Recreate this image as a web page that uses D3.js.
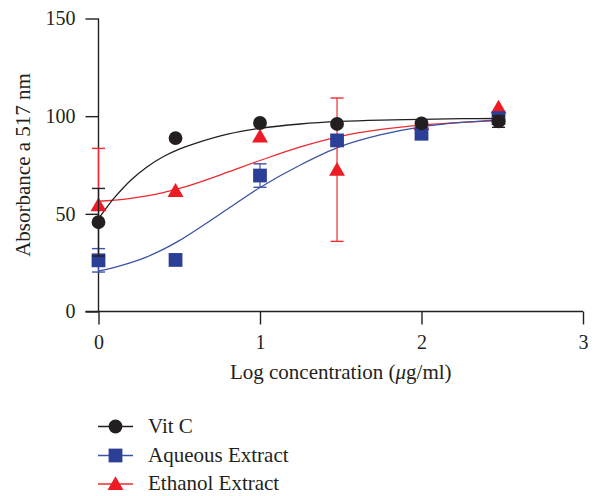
<!DOCTYPE html>
<html>
<head>
<meta charset="utf-8">
<script src="https://cdn.jsdelivr.net/npm/d3@7"></script>
<style>
  html, body { margin: 0; padding: 0; background: #fff; }
  svg text { font-family: "Liberation Serif", "Times New Roman", serif; fill: #231f20; }
</style>
</head>
<body>
<div id="chart"></div>
<script>
// measured points (log10 of concentration)
var logConc = [0, 0.477, 1, 1.477, 2, 2.477];

var vitC = [45.7, 88.8, 96.5, 96.0, 96.3, 97.3];
var vitCErr = [17.3, 0, 0, 0, 0, 3];
var aqueous = [26.2, 26.4, 69.6, 87.6, 91.0, 99.0];
var aqueousErr = [6, 0, 6, 0, 0, 0];
var ethanol = [54.5, 61.8, 89.6, 72.6, 96.0, 104.5];
var ethanolErr = [29, 0, 0, 36.7, 0, 0];

// fitted curves
var fitX = [0, 0.05, 0.1, 0.2, 0.3, 0.4, 0.5, 0.6, 0.8, 1.0, 1.25, 1.5, 1.75, 2.0, 2.25, 2.477];
var vitCFit = [47.5, 53.2, 58.4, 67.2, 74.0, 79.2, 83.1, 86.1, 90.8, 93.8, 96.0, 97.3, 98.0, 98.4, 98.7, 98.8];
var aqueousFit = [20.8, 21.6, 22.6, 25.0, 28.0, 31.8, 36.3, 41.5, 52.5, 63.5, 75.0, 84.5, 90.5, 94.5, 96.8, 98.0];
var ethanolFit = [56.5, 56.7, 57.0, 57.9, 59.2, 60.9, 63.0, 65.5, 71.3, 77.3, 84.3, 89.7, 93.2, 95.4, 96.8, 97.7];

var xTicks = [0, 1, 2, 3];
var yTicks = [0, 50, 100, 150];

var width = 597, height = 496;

var svg = d3.select('#chart').append('svg')
    .attr('width', width)
    .attr('height', height);

var x = d3.scaleLinear().domain([0, 3]).range([98.5, 583]);
var y = d3.scaleLinear().domain([0, 150]).range([311.5, 18.5]);

var axisColor = '#231f20';
var tick = 13;

// y axis
var yAxis = svg.append('g')
    .attr('transform', 'translate(' + x(0) + ',0)')
    .call(d3.axisLeft(y).tickValues(yTicks).tickSize(tick).tickPadding(10).tickFormat(d3.format('d')));
yAxis.select('.domain').remove();
yAxis.selectAll('line').attr('stroke', axisColor).attr('stroke-width', 1.4);
yAxis.selectAll('text').attr('font-size', 20).style('font-family', '"Liberation Serif", serif').attr('fill', axisColor);

// x axis
var xAxis = svg.append('g')
    .attr('transform', 'translate(0,' + y(0) + ')')
    .call(d3.axisBottom(x).tickValues(xTicks).tickSize(tick).tickPadding(10).tickFormat(d3.format('d')));
xAxis.select('.domain').remove();
xAxis.selectAll('line').attr('stroke', axisColor).attr('stroke-width', 1.4);
xAxis.selectAll('text').attr('font-size', 20).style('font-family', '"Liberation Serif", serif').attr('fill', axisColor);

// axis lines (prism style, crossing at the origin)
svg.append('line')
    .attr('x1', x(0)).attr('x2', x(0))
    .attr('y1', y(150)).attr('y2', y(0))
    .attr('stroke', axisColor).attr('stroke-width', 1.4);
svg.append('line')
    .attr('x1', x(0) - tick).attr('x2', x(3))
    .attr('y1', y(0)).attr('y2', y(0))
    .attr('stroke', axisColor).attr('stroke-width', 1.4);

// titles
var xTitle = svg.append('text')
    .attr('x', (x(0) + x(3)) / 2)
    .attr('y', 379)
    .attr('text-anchor', 'middle')
    .attr('font-size', 21);
xTitle.append('tspan').text('Log concentration (');
xTitle.append('tspan').attr('font-style', 'italic').text('\u03bc');
xTitle.append('tspan').text('g/ml)');

svg.append('text')
    .attr('transform', 'translate(30,' + (y(0) + y(150)) / 2 + ') rotate(-90)')
    .attr('text-anchor', 'middle')
    .attr('font-size', 21)
    .text('Absorbance a 517 nm');

var series = [
    {name: 'Ethanol Extract', values: ethanol, err: ethanolErr, fit: ethanolFit, color: '#ed1c24', line: '#ee2a31', shape: 'triangle'},
    {name: 'Aqueous Extract', values: aqueous, err: aqueousErr, fit: aqueousFit, color: '#2b3f96', line: '#3b52a5', shape: 'square'},
    {name: 'Vit C', values: vitC, err: vitCErr, fit: vitCFit, color: '#231f20', line: '#231f20', shape: 'circle'}
];

var symbols = {circle: d3.symbolCircle, square: d3.symbolSquare, triangle: d3.symbolTriangle};
var sizes = {circle: 150, square: 190, triangle: 110};

var line = d3.line()
    .x(function(d) { return x(d[0]); })
    .y(function(d) { return y(d[1]); })
    .curve(d3.curveCatmullRom.alpha(0.5));

// fitted curves first
series.forEach(function(s) {
    svg.append('path')
        .datum(fitX.map(function(v, i) { return [v, s.fit[i]]; }))
        .attr('d', line)
        .attr('fill', 'none')
        .attr('stroke', s.line)
        .attr('stroke-width', 1.3);
});

// error bars and markers
series.forEach(function(s) {
    var g = svg.append('g');
    var pts = logConc.map(function(v, i) { return {x: v, y: s.values[i], e: s.err[i]}; });

    var eb = g.selectAll('.err')
        .data(pts.filter(function(d) { return d.e > 0; }))
        .enter().append('g');
    eb.append('line')
        .attr('x1', function(d) { return x(d.x); })
        .attr('x2', function(d) { return x(d.x); })
        .attr('y1', function(d) { return y(d.y - d.e); })
        .attr('y2', function(d) { return y(d.y + d.e); })
        .attr('stroke', s.line).attr('stroke-width', 1.2);
    [-1, 1].forEach(function(sign) {
        eb.append('line')
            .attr('x1', function(d) { return x(d.x) - 6.5; })
            .attr('x2', function(d) { return x(d.x) + 6.5; })
            .attr('y1', function(d) { return y(d.y + sign * d.e); })
            .attr('y2', function(d) { return y(d.y + sign * d.e); })
            .attr('stroke', s.line).attr('stroke-width', 1.4);
    });

    g.selectAll('.pt')
        .data(pts)
        .enter().append('path')
        .attr('transform', function(d) {
            var dy = s.shape === 'triangle' ? 1.5 : 0;
            return 'translate(' + x(d.x) + ',' + (y(d.y) + dy) + ')';
        })
        .attr('d', d3.symbol().type(symbols[s.shape]).size(sizes[s.shape]))
        .attr('fill', s.color);
});

// legend
var legendRows = [series[2], series[1], series[0]];
var legend = svg.append('g')
    .selectAll('g')
    .data(legendRows)
    .enter().append('g')
    .attr('transform', function(d, i) { return 'translate(0,' + [426.5, 455.5, 484][i] + ')'; });

legend.append('line')
    .attr('x1', 98).attr('x2', 133)
    .attr('stroke', function(d) { return d.line; })
    .attr('stroke-width', 1.3);
legend.append('path')
    .attr('transform', function(d) { return 'translate(115.5,' + (d.shape === 'triangle' ? 1.5 : 0) + ')'; })
    .attr('d', function(d) { return d3.symbol().type(symbols[d.shape]).size(sizes[d.shape])(); })
    .attr('fill', function(d) { return d.color; });
legend.append('text')
    .attr('x', 148)
    .attr('y', 6)
    .attr('font-size', 21)
    .text(function(d) { return d.name; });
</script>
</body>
</html>
